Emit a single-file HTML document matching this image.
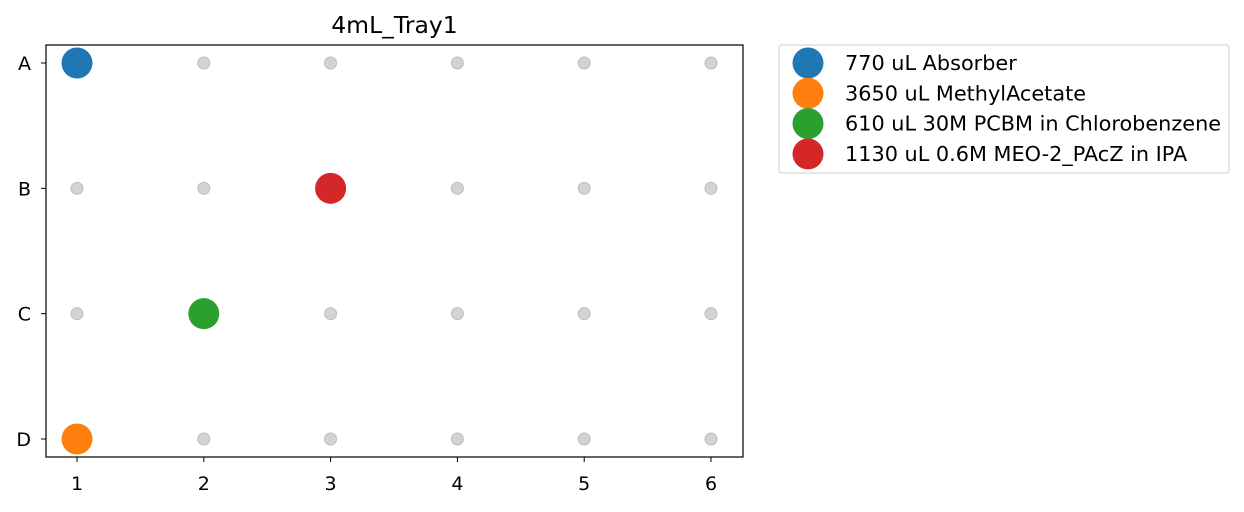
<!DOCTYPE html>
<html><head><meta charset="utf-8"><style>
body{margin:0;background:#fff;width:1244px;height:507px;overflow:hidden}
text{font-family:"DejaVu Sans","Liberation Sans",sans-serif;fill:#000}
</style></head><body>
<svg id="chart" width="1244" height="507" xmlns="http://www.w3.org/2000/svg"></svg>
<script>
const columns=[1,2,3,4,5,6];
const rows=["A","B","C","D"];
const wellLabels=["770 uL Absorber","3650 uL MethylAcetate","610 uL 30M PCBM in Chlorobenzene","1130 uL 0.6M MEO-2_PAcZ in IPA"];
const wellCols=[1,1,2,3];
const wellRows=["A","D","C","B"];
const colors=["#1f77b4","#ff7f0e","#2ca02c","#d62728"];
const NS="http://www.w3.org/2000/svg";
const svg=document.getElementById('chart');
const L=46,R=743,T=45,B=457;
const xs=c=>77+(c-1)*(711-77)/5;
const ys=r=>63+rows.indexOf(r)*(439-63)/3;
function mk(tag,attrs,parent){const e=document.createElementNS(NS,tag);for(const k in attrs)e.setAttribute(k,attrs[k]);(parent||svg).appendChild(e);return e;}
const title=mk('text',{x:(L+R)/2,y:33,'text-anchor':'middle','font-size':23.5});
title.textContent='4mL_Tray1';


const grid=mk('g',{});


rows.forEach(r=>columns.forEach(c=>{
  const d=mk('circle',{cx:xs(c),cy:ys(r),r:6,fill:'#d3d3d3',stroke:'#bdbdbd','stroke-width':1},grid);
  
  
}));
wellLabels.forEach((lab,i)=>{
  const d=mk('circle',{cx:xs(wellCols[i]),cy:ys(wellRows[i]),r:15.5,fill:colors[i]});
  
  
});
const frame=mk('rect',{x:L,y:T,width:R-L,height:B-T,fill:'none',stroke:'#000','stroke-width':1.2});


columns.forEach(c=>{
  mk('line',{x1:xs(c),x2:xs(c),y1:B,y2:B+5,stroke:'#000'});
  const t=mk('text',{x:xs(c),y:B+33,'text-anchor':'middle','font-size':19});
  t.textContent=c;
  
  
});
rows.forEach(r=>{
  mk('line',{x1:L-5,x2:L,y1:ys(r),y2:ys(r),stroke:'#000'});
  const t=mk('text',{x:L-15,y:ys(r)+7,'text-anchor':'end','font-size':19});
  t.textContent=r;
  
  
});
const lg=mk('g',{});


mk('rect',{x:779,y:45,width:450,height:128,rx:3,fill:'#fff',stroke:'#ccc'},lg);
wellLabels.forEach((lab,i)=>{
  const y=63+i*30.3;
  const g=mk('g',{},lg);
  
  
  mk('circle',{cx:808,cy:y,r:15.5,fill:colors[i]},g);
  const t=mk('text',{x:845,y:y+7,'font-size':20.8},g);
  t.textContent=lab;
});
</script>
</body></html>
